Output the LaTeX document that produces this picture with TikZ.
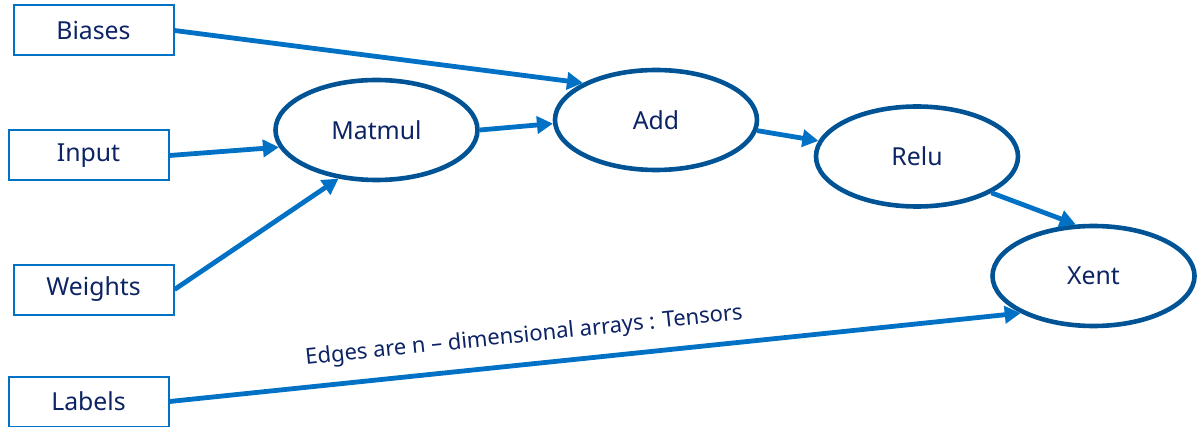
\documentclass[tikz,border=0pt]{standalone}
\usepackage{fontspec}
\setmainfont{Noto Sans}
\usepackage{tikz}
\usetikzlibrary{arrows.meta,shapes.geometric}

\definecolor{txtnavy}{RGB}{12,35,100}
\definecolor{edgeblue}{RGB}{0,113,197}
\definecolor{opblue}{RGB}{0,84,150}

\begin{document}
\begin{tikzpicture}[x=0.5pt,y=-0.5pt,
    tensor/.style={rectangle, draw=edgeblue, line width=1pt, minimum width=80pt, minimum height=25pt, text=txtnavy, font=\fontsize{12.4}{14}\selectfont},
    op/.style={ellipse, draw=opblue, line width=2.3pt, minimum width=101pt, minimum height=50pt, text=txtnavy, font=\fontsize{12.4}{14}\selectfont},
    flow/.style={draw=edgeblue, line width=2.4pt, -{Triangle[length=8pt,width=8.5pt]}}]

    \useasboundingbox (0,0) rectangle (1198,427);

    % Inputs
    \node[tensor] (biases) at (93.5,30.5) {Biases};
    \node[tensor] (input) at (88.5,155.5) {Input};
    \node[tensor] (weights) at (93.5,289.5) {Weights};
    \node[tensor] (labels) at (88.5,401.5) {Labels};

    % Operations
    \node[op] (matmul) at (376.5,130) {\raisebox{-3pt}{Matmul}};
    \node[op] (add) at (656,120) {Add};
    \node[op] (relu) at (917,156.5) {Relu};
    \node[op] (xent) at (1093.5,276) {Xent};

    % Edges
    \draw[flow] (biases.east) -- (add.north west);
    \draw[flow] (input.east) -- (matmul.190);
    \draw[flow] (weights.east) -- (matmul.232);
    \draw[flow] (matmul.east) -- (add.182);
    \draw[flow] (add.354) -- (relu.171);
    \draw[flow] (relu.334) -- (xent.109);
    \draw[flow] (labels.east) -- node[sloped, above=4pt, pos=0.42, text=txtnavy, font=\fontsize{11}{13}\selectfont] (note) {Edges are n -- dimensional arrays : Tensors} (xent.207);
\end{tikzpicture}
\end{document}
